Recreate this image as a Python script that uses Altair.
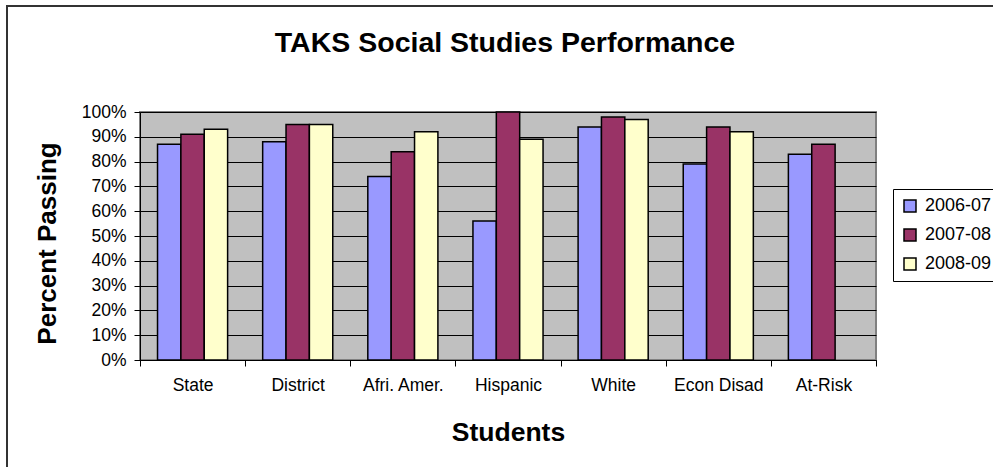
import altair as alt
import pandas as pd

categories = ["State", "District", "Afri. Amer.", "Hispanic", "White", "Econ Disad", "At-Risk"]
years = ["2006-07", "2007-08", "2008-09"]
v_2006_07 = [0.87, 0.88, 0.74, 0.56, 0.94, 0.79, 0.83]
v_2007_08 = [0.91, 0.95, 0.84, 1.00, 0.98, 0.94, 0.87]
v_2008_09 = [0.93, 0.95, 0.92, 0.89, 0.97, 0.92, None]
colors = ["#9999FF", "#993366", "#FFFFCC"]
title_text = "TAKS Social Studies Performance"

rows = []
for yr, vals in zip(years, [v_2006_07, v_2007_08, v_2008_09]):
    for c, v in zip(categories, vals):
        if v is not None:
            rows.append({"Students": c, "Year": yr, "Value": v})
df = pd.DataFrame(rows)

FONT = "Liberation Sans"

bars = alt.Chart(df).mark_bar(stroke="black", strokeWidth=1.5).encode(
    x=alt.X("Students:N", sort=categories,
            scale=alt.Scale(paddingInner=0, paddingOuter=0),
            axis=alt.Axis(title="Students", labelAngle=0, tickBand="extent",
                          domainColor="black", tickColor="black", tickSize=6,
                          labelFontSize=17.5, labelPadding=10, labelColor="black",
                          titleFontSize=26.5, titleFontWeight="bold", titleColor="black",
                          titleBaseline="alphabetic", titleY=80, grid=False)),
    xOffset=alt.XOffset("Year:N", sort=years,
                        scale=alt.Scale(paddingOuter=0.75, paddingInner=0)),
    y=alt.Y("Value:Q", scale=alt.Scale(domain=[0, 1], nice=False),
            axis=alt.Axis(title="Percent Passing", format="%", values=[i / 10 for i in range(11)],
                          domainColor="black", tickColor="black", tickSize=6,
                          labelFontSize=17.5, labelPadding=8, labelColor="black",
                          gridColor="black", gridWidth=1,
                          titleFontSize=26, titleFontWeight="bold", titleColor="black",
                          titleBaseline="alphabetic", titleX=-85, titleY=131)),
    color=alt.Color("Year:N", sort=years,
                    scale=alt.Scale(domain=years, range=colors),
                    legend=alt.Legend(title=None, orient="none", legendX=753, legendY=77,
                                      symbolType="square", symbolSize=144,
                                      symbolStrokeColor="black", symbolStrokeWidth=1.5,
                                      labelFontSize=18, labelColor="black", labelOffset=6,
                                      rowPadding=11, padding=8,
                                      strokeColor="black", fillColor="white")),
)

border = alt.Chart(alt.Data(values=[{}])).mark_rect(
    fill=None, stroke="#333333", strokeWidth=2, clip=False
).encode(
    x=alt.value(-133), y=alt.value(-106), x2=alt.value(900), y2=alt.value(400)
)

title = alt.Chart(alt.Data(values=[{}])).mark_text(
    text=title_text, fontSize=28.5, fontWeight="bold", font=FONT, color="black",
    align="center", baseline="alphabetic", clip=False
).encode(x=alt.value(365), y=alt.value(-60))

chart = alt.layer(border, title, bars).properties(
    width=736, height=248,
    autosize=alt.AutoSizeParams(type="none"),
    padding={"left": 140, "top": 112, "right": 117, "bottom": 107},
    background="white",
).configure(font=FONT).configure_view(
    fill="#C0C0C0", stroke="#808080", strokeWidth=2
)

chart.save("out.html", embed_options={"renderer": "svg", "actions": False})
